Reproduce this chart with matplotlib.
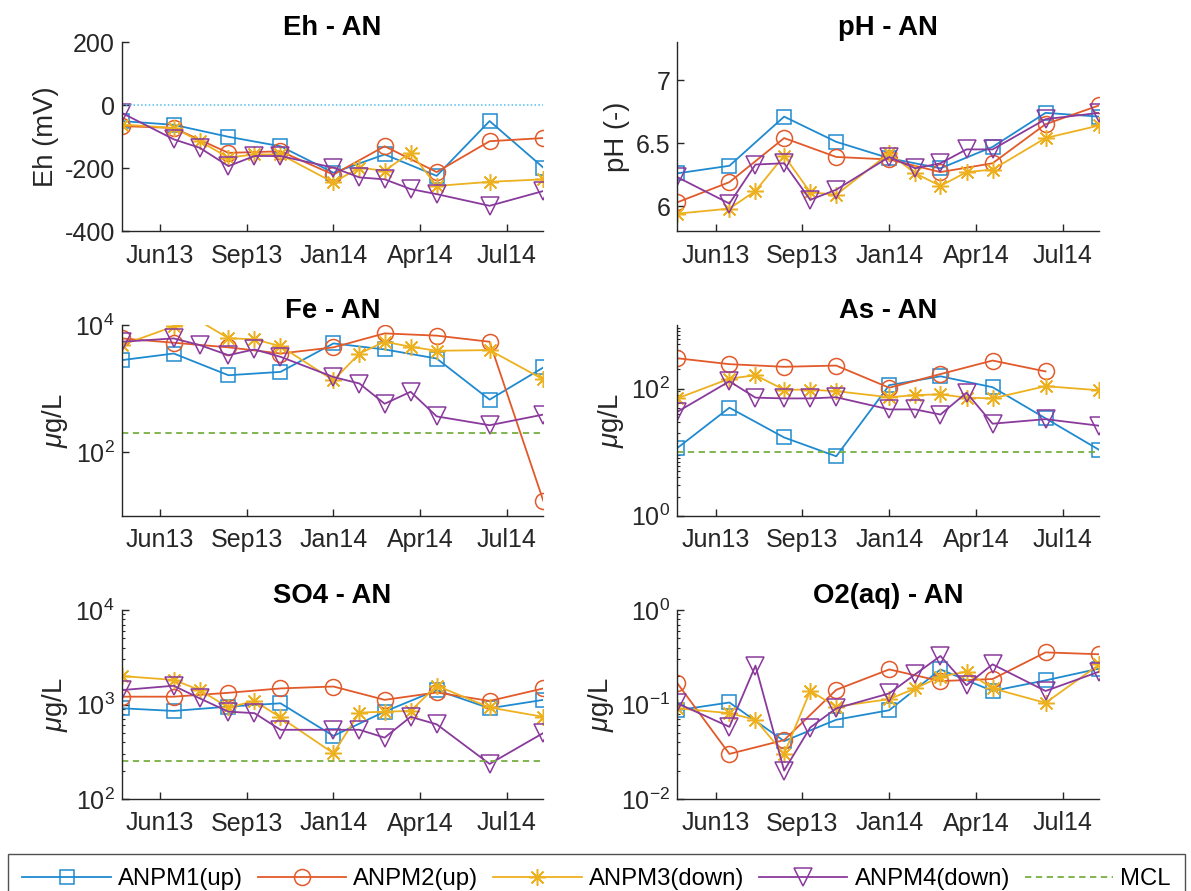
import matplotlib
matplotlib.use('Agg')
import matplotlib.pyplot as plt
from matplotlib.ticker import FixedLocator, FuncFormatter, LogLocator, NullFormatter
import numpy as np
from datetime import datetime

plt.rcParams['font.family'] = ['Liberation Sans', 'DejaVu Sans']
plt.rcParams['mathtext.fontset'] = 'custom'
plt.rcParams['mathtext.rm'] = 'Liberation Sans'
plt.rcParams['mathtext.it'] = 'Liberation Sans:italic'
plt.rcParams['mathtext.bf'] = 'Liberation Sans:bold'
plt.rcParams['axes.unicode_minus'] = False

# ---------------- data ----------------
all_dates = ['2013-05-02', '2013-07-01', '2013-07-31', '2013-09-02', '2013-10-02',
             '2013-11-01', '2014-01-01', '2014-01-31', '2014-03-01', '2014-03-31',
             '2014-04-30', '2014-06-30', '2014-08-31']
idx_up = [0, 1, 3, 5, 6, 8, 10, 11, 12]          # ANPM1 / ANPM2 sampling
idx_up_as2 = [0, 1, 3, 5, 6, 8, 10, 11]           # ANPM2 arsenic
idx_down = list(range(13))                         # ANPM3 / ANPM4 sampling

tick_dates = ['2013-06-15', '2013-09-23', '2014-01-01', '2014-04-11', '2014-07-20']
tick_labels = ['Jun13', 'Sep13', 'Jan14', 'Apr14', 'Jul14']

series_names = ['ANPM1(up)', 'ANPM2(up)', 'ANPM3(down)', 'ANPM4(down)']

eh_pm1 = [-50, -62, -100, -130, -214, -156, -224, -50, -198]
eh_pm2 = [-66, -72, -151, -146, -220, -130, -212, -114, -104]
eh_pm3 = [-61, -72, -114, -166, -156, -156, -245, -198, -208, -150, -256, -243, -235]
eh_pm4 = [-24, -108, -135, -193, -161, -161, -198, -229, -235, -266, -282, -319, -272]

ph_pm1 = [6.26, 6.32, 6.71, 6.51, 6.38, 6.30, 6.47, 6.74, 6.71]
ph_pm2 = [6.03, 6.19, 6.54, 6.39, 6.37, 6.27, 6.34, 6.65, 6.80]
ph_pm3 = [5.94, 5.98, 6.12, 6.40, 6.11, 6.09, 6.42, 6.26, 6.16, 6.27, 6.29, 6.54, 6.64]
ph_pm4 = [6.23, 6.02, 6.33, 6.34, 6.05, 6.13, 6.39, 6.30, 6.34, 6.45, 6.45, 6.69, 6.74]

fe_pm1 = [2800, 3560, 1620, 1830, 5130, 4130, 2970, 670, 2150]
fe_pm2 = [6150, 5260, 4450, 3560, 4450, 7380, 6800, 5450, 17]
fe_pm3 = [4830, 9500, 11500, 6180, 5950, 4650, 1350, 3560, 5450, 4550, 3930, 4030, 1390]
fe_pm4 = [5450, 6150, 4830, 3350, 4130, 3160, 1520, 1200, 577, 890, 365, 265, 390]

as_pm1 = [11.6, 50, 17, 8.6, 113, 156, 105, 34, 10.8]
as_pm2 = [300, 242, 220, 230, 103, 169, 276, 186]
as_pm3 = [70, 143, 162, 96, 96, 91, 73, 79, 81, 72, 70, 109, 94]
as_pm4 = [43, 130, 72, 70, 70, 73, 47, 47, 39, 86, 28, 33, 26]

so4_pm1 = [912, 855, 950, 1030, 465, 840, 1420, 912, 1120]
so4_pm2 = [1210, 1210, 1330, 1480, 1550, 1120, 1340, 1090, 1480]
so4_pm3 = [2000, 1820, 1420, 930, 1090, 730, 305, 820, 840, 855, 1580, 930, 740]
so4_pm4 = [1420, 1580, 1160, 840, 810, 540, 540, 540, 446, 740, 617, 235, 500]

o2_pm1 = [0.087, 0.105, 0.041, 0.069, 0.087, 0.235, 0.139, 0.18, 0.24]
o2_pm2 = [0.168, 0.030, 0.042, 0.143, 0.235, 0.177, 0.186, 0.356, 0.34]
o2_pm3 = [0.091, 0.081, 0.069, 0.030, 0.139, 0.095, 0.114, 0.148, 0.197, 0.223, 0.148, 0.104, 0.266]
o2_pm4 = [0.103, 0.058, 0.258, 0.020, 0.057, 0.091, 0.131, 0.209, 0.326, 0.160, 0.266, 0.139, 0.223]

mcl_fe = 200
mcl_as = 10
mcl_so4 = 250
eh_ref = 0

# ---------------- style ----------------
colors = ['#1f8ad0', '#e2592a', '#edb120', '#8a3a9c']
mcl_color = '#77b041'
zero_color = '#4dbeee'
markers = ['s', 'o', (8, 2, 0), 'v']
msizes = [10, 11.5, 12, 12.5]
axcol = '#262626'

dates = [datetime.strptime(d, '%Y-%m-%d') for d in all_dates]
tdates = [datetime.strptime(d, '%Y-%m-%d') for d in tick_dates]

fig = plt.figure(figsize=(11.91, 8.91), dpi=100)
W, H = 1191.0, 891.0
cols = [(121.7, 543.4), (677.3, 1099.4)]
rows = [(42.3, 231.3), (325.0, 515.7), (610.0, 799.0)]


def make_ax(r, c):
    l, rr = cols[c]
    t, b = rows[r]
    return fig.add_axes([l / W, 1 - b / H, (rr - l) / W, (b - t) / H])


def style(ax, title, ylabel):
    for s in ['top', 'right']:
        ax.spines[s].set_visible(False)
    for s in ['left', 'bottom']:
        ax.spines[s].set_color(axcol)
        ax.spines[s].set_linewidth(1.0)
    ax.tick_params(which='major', direction='in', length=5, width=1, colors=axcol,
                   labelsize=18, top=False, right=False)
    ax.tick_params(which='minor', direction='in', length=2.5, width=0.8, colors=axcol,
                   top=False, right=False)
    ax.tick_params(axis='x', pad=9)
    ax.tick_params(axis='y', pad=5)
    ax.set_xlim(dates[0], dates[-1])
    ax.set_xticks(tdates)
    ax.set_xticklabels(tick_labels)
    ax.xaxis.set_minor_locator(FixedLocator([]))
    ax.set_title(title, fontsize=19.8, fontweight='bold', color='black', pad=5)
    ax.set_ylabel(ylabel, fontsize=19.8, color=axcol, labelpad=4)


def pick(idx):
    return [dates[i] for i in idx]


def plot_series(ax, data, idxs, ylim):
    lines = []
    for k, (vals, idx) in enumerate(zip(data, idxs)):
        mk = [i for i, v in enumerate(vals) if ylim[0] <= v <= ylim[1]]
        ln, = ax.plot(pick(idx), vals, color=colors[k], marker=markers[k],
                      markersize=msizes[k], markerfacecolor='none',
                      markeredgecolor=colors[k], markeredgewidth=1.1,
                      linewidth=1.3, markevery=mk, label=series_names[k])
        lines.append(ln)
    return lines


def log_fmt(v, pos):
    return r'$10^{%d}$' % int(round(np.log10(v)))


# Eh
ax1 = make_ax(0, 0)
ylim = (-400, 200)
handles = plot_series(ax1, [eh_pm1, eh_pm2, eh_pm3, eh_pm4], [idx_up, idx_up, idx_down, idx_down], ylim)
ax1.plot([dates[0], dates[-1]], [eh_ref, eh_ref], linestyle=(0, (1, 1.5)), color=zero_color, linewidth=1.1)
ax1.set_ylim(*ylim)
ax1.set_yticks([-400, -200, 0, 200])
ax1.set_yticklabels(['-400', '-200', '0', '200'])
style(ax1, 'Eh - AN', 'Eh (mV)')

# pH
ax2 = make_ax(0, 1)
ylim = (5.8, 7.3)
plot_series(ax2, [ph_pm1, ph_pm2, ph_pm3, ph_pm4], [idx_up, idx_up, idx_down, idx_down], ylim)
ax2.set_ylim(*ylim)
ax2.set_yticks([6, 6.5, 7])
ax2.set_yticklabels(['6', '6.5', '7'])
style(ax2, 'pH - AN', 'pH (-)')


def log_panel(r, c, data, idxs, ylim, major, mcl, title):
    ax = make_ax(r, c)
    ax.set_yscale('log')
    plot_series(ax, data, idxs, ylim)
    mline = None
    if mcl is not None:
        mline, = ax.plot([dates[0], dates[-1]], [mcl, mcl], linestyle=(0, (3.5, 2.5)),
                         color=mcl_color, linewidth=1.3, label='MCL')
    ax.set_ylim(*ylim)
    ax.yaxis.set_major_locator(FixedLocator(major))
    ax.yaxis.set_major_formatter(FuncFormatter(log_fmt))
    ax.yaxis.set_minor_locator(LogLocator(base=10, subs=np.arange(2, 10)))
    ax.yaxis.set_minor_formatter(NullFormatter())
    style(ax, title, r'$\mu$g/L')
    return ax, mline


ax3, mcl_handle = log_panel(1, 0, [fe_pm1, fe_pm2, fe_pm3, fe_pm4], [idx_up, idx_up, idx_down, idx_down],
                            (10, 1e4), [1e2, 1e4], mcl_fe, 'Fe - AN')
ax4, _ = log_panel(1, 1, [as_pm1, as_pm2, as_pm3, as_pm4], [idx_up, idx_up_as2, idx_down, idx_down],
                   (1, 1e3), [1e0, 1e2], mcl_as, 'As - AN')
ax5, _ = log_panel(2, 0, [so4_pm1, so4_pm2, so4_pm3, so4_pm4], [idx_up, idx_up, idx_down, idx_down],
                   (1e2, 1e4), [1e2, 1e3, 1e4], mcl_so4, 'SO4 - AN')
ax6, _ = log_panel(2, 1, [o2_pm1, o2_pm2, o2_pm3, o2_pm4], [idx_up, idx_up, idx_down, idx_down],
                   (1e-2, 1e0), [1e-2, 1e-1, 1e0], None, 'O2(aq) - AN')

leg = fig.legend(handles + [mcl_handle], series_names + ['MCL'], loc='upper left',
                 bbox_to_anchor=(8 / W, 1 - 854 / H), bbox_transform=fig.transFigure,
                 ncol=5, fontsize=17.2, frameon=True, fancybox=False, borderaxespad=0,
                 handlelength=3.7, handletextpad=0.3, columnspacing=0.62, borderpad=0.6,
                 numpoints=1)
leg.get_frame().set_edgecolor(axcol)
leg.get_frame().set_linewidth(1.0)
for t in leg.get_texts():
    t.set_color('black')

fig.savefig('out.png', dpi=100)
